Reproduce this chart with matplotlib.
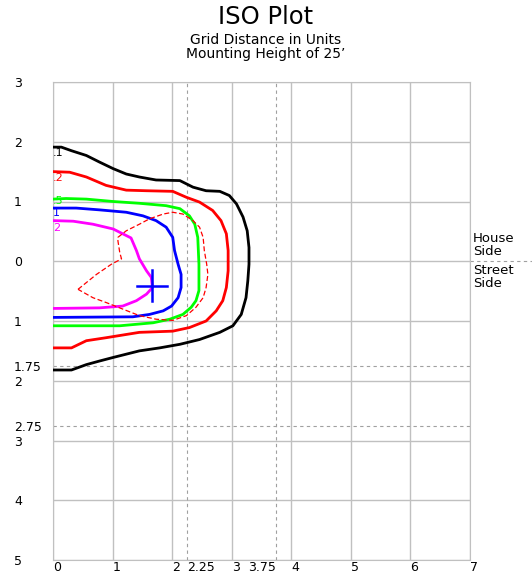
import matplotlib.pyplot as plt
import numpy as np

# iso contour lines (x in units, y in units; +y = house side)
c01_x = [0, 0.14, 0.31, 0.56, 0.78, 1.01, 1.23, 1.45, 1.73, 2.13, 2.35, 2.57, 2.80, 2.96, 3.08, 3.19, 3.26, 3.29, 3.29, 3.27, 3.24, 3.16, 3.02, 2.80, 2.46, 2.13, 1.79, 1.45, 1.01, 0.78, 0.56, 0.31, 0]
c01_y = [1.91, 1.91, 1.85, 1.77, 1.66, 1.55, 1.46, 1.41, 1.36, 1.35, 1.24, 1.18, 1.17, 1.10, 0.96, 0.74, 0.51, 0.23, -0.05, -0.33, -0.61, -0.89, -1.08, -1.19, -1.31, -1.39, -1.45, -1.50, -1.61, -1.67, -1.73, -1.82, -1.82]

c02_x = [0, 0.28, 0.56, 0.89, 1.23, 1.57, 2.01, 2.24, 2.46, 2.68, 2.82, 2.91, 2.94, 2.94, 2.91, 2.85, 2.74, 2.57, 2.29, 2.01, 1.45, 0.89, 0.56, 0.31, 0]
c02_y = [1.50, 1.49, 1.41, 1.27, 1.19, 1.18, 1.17, 1.07, 0.99, 0.85, 0.68, 0.46, 0.18, -0.16, -0.44, -0.66, -0.83, -1.00, -1.11, -1.17, -1.19, -1.28, -1.33, -1.45, -1.45]

c05_x = [0, 0.22, 0.56, 1.01, 1.45, 1.90, 2.13, 2.29, 2.38, 2.43, 2.45, 2.45, 2.40, 2.32, 2.18, 1.96, 1.68, 1.12, 0]
c05_y = [1.04, 1.05, 1.04, 1.00, 0.97, 0.93, 0.88, 0.76, 0.62, 0.40, -0.05, -0.49, -0.66, -0.77, -0.89, -0.97, -1.03, -1.08, -1.08]

c1_x = [0, 0.39, 0.78, 1.23, 1.51, 1.73, 1.90, 2.01, 2.04, 2.10, 2.15, 2.15, 2.10, 1.99, 1.85, 1.62, 1.34, 0]
c1_y = [0.89, 0.89, 0.86, 0.82, 0.76, 0.68, 0.57, 0.40, 0.18, -0.05, -0.22, -0.44, -0.61, -0.75, -0.83, -0.89, -0.93, -0.94]

c2_x = [0, 0.34, 0.67, 1.01, 1.31, 1.40, 1.45, 1.57, 1.65, 1.67, 1.57, 1.40, 1.17, 0.78, 0]
c2_y = [0.68, 0.67, 0.62, 0.54, 0.39, 0.18, 0.04, -0.16, -0.27, -0.44, -0.55, -0.66, -0.75, -0.78, -0.79]

dash_x = [0.42, 0.73, 0.98, 1.15, 1.12, 1.09, 1.09, 1.23, 1.45, 1.62, 1.85, 2.01, 2.18, 2.35, 2.46, 2.52, 2.54, 2.58, 2.60, 2.57, 2.52, 2.40, 2.24, 2.01, 1.73, 1.45, 1.17, 0.89, 0.67, 0.42]
dash_y = [-0.47, -0.22, -0.05, 0.04, 0.15, 0.34, 0.40, 0.51, 0.62, 0.71, 0.79, 0.82, 0.79, 0.68, 0.57, 0.40, 0.18, -0.05, -0.22, -0.44, -0.61, -0.77, -0.91, -0.99, -0.97, -0.91, -0.80, -0.69, -0.61, -0.47]

fixture = (1.66, -0.41)

xticks = [0, 1, 2, 2.25, 3, 3.75, 4, 5, 6, 7]
xlabels = ['0', '1', '2', '2.25', '3', '3.75', '4', '5', '6', '7']
yticks = [3, 2, 1, 0, -1, -1.75, -2, -2.75, -3, -4, -5]
ylabels = ['3', '2', '1', '0', '1', '1.75', '2', '2.75', '3', '4', '5']

fig = plt.figure(figsize=(5.32, 5.78), dpi=100)
ax = fig.add_axes([53 / 532, 1 - 560 / 578, 417 / 532, 478 / 578])
ax.set_xlim(0, 7)
ax.set_ylim(-5, 3)

grid_c = '#c0c0c0'
for v in range(0, 8):
    ax.axvline(v, color=grid_c, lw=1, zorder=1)
for v in range(-5, 4):
    ax.axhline(v, color=grid_c, lw=1, zorder=1)
for v in [2.25, 3.75]:
    ax.axvline(v, color='#a0a0a0', lw=0.8, ls=(0, (3, 3)), zorder=1)
for v in [-1.75, -2.75]:
    ax.axhline(v, color='#a0a0a0', lw=0.8, ls=(0, (3, 3)), zorder=1)
for s in ax.spines.values():
    s.set_color(grid_c)

ax.plot(c01_x, c01_y, color='black', lw=2, zorder=3)
ax.plot(c02_x, c02_y, color='#ff0000', lw=2, zorder=3)
ax.plot(c05_x, c05_y, color='#00ff00', lw=2, zorder=3)
ax.plot(c1_x, c1_y, color='#0000ff', lw=2, zorder=3)
ax.plot(c2_x, c2_y, color='#ff00ff', lw=2, zorder=3)
ax.plot(dash_x, dash_y, color='#ff0000', lw=0.9, ls=(0, (4, 2)), zorder=3)

ax.plot([fixture[0] - 0.25, fixture[0] + 0.25], [fixture[1]] * 2, color='#0000ff', lw=1.8, zorder=4)
ax.plot([fixture[0]] * 2, [fixture[1] - 0.26, fixture[1] + 0.26], color='#0000ff', lw=1.8, zorder=4)

# contour labels, nudged so the tight ones don't collide
for txt, yy, col in [('.1', c01_y[0] - 0.02, 'black'), ('.2', c02_y[0] - 0.02, '#ff0000'),
                     ('.5', c05_y[0] + 0.05, '#00ff00'), ('1', c1_y[0] - 0.0, '#0000ff'),
                     ('2', c2_y[0] - 0.04, '#ff00ff')]:
    ax.text(0.0, yy, txt, color=col, fontsize=8, ha='left', va='top', zorder=5)

ax.set_xticks(xticks)
ax.set_xticklabels(xlabels, ha='left')
# 3.75 label sits to the left of its line
ax.get_xticklabels()[5].set_ha('right')
ax.set_yticks(yticks)
ax.set_yticklabels(ylabels, ha='left')
ax.tick_params(axis='x', length=0, pad=1, labelsize=9)
ax.tick_params(axis='y', length=0, pad=28, labelsize=9)

# house / street side marker
ax.plot([7, 8.05], [0, 0], color='#a0a0a0', lw=0.8, ls=(0, (3, 3)), clip_on=False)
ax.text(7.05, 0.05, 'House\nSide', fontsize=9.5, ha='left', va='bottom', linespacing=1.0)
ax.text(7.05, -0.05, 'Street\nSide', fontsize=9.5, ha='left', va='top', linespacing=1.0)

fig.text(0.5, 1 - 17 / 578, 'ISO Plot', fontsize=17.5, ha='center', va='center')
fig.text(0.5, 1 - 47 / 578, 'Grid Distance in Units\nMounting Height of 25\u2019',
         fontsize=10, ha='center', va='center', linespacing=1.0)

fig.savefig('out.png', dpi=100)
